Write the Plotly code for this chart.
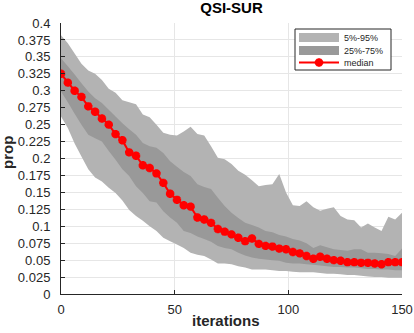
import plotly.graph_objects as go

# ── Data (every 3 iterations) ─────────────────────────────────────────────────

iterations = list(range(0, 151, 3))

median = [0.325, 0.312, 0.300, 0.291, 0.277, 0.269, 0.259, 0.250, 0.236, 0.227,
          0.209, 0.204, 0.190, 0.186, 0.178, 0.164, 0.148, 0.139, 0.131, 0.129,
          0.113, 0.110, 0.105, 0.096, 0.092, 0.088, 0.083, 0.078, 0.082, 0.074,
          0.071, 0.070, 0.067, 0.066, 0.062, 0.060, 0.056, 0.052, 0.055, 0.052,
          0.050, 0.049, 0.047, 0.047, 0.046, 0.046, 0.045, 0.044, 0.047, 0.047,
          0.047]

q95 = [0.382, 0.370, 0.355, 0.340, 0.330, 0.325, 0.316, 0.303, 0.297, 0.286,
       0.283, 0.280, 0.265, 0.261, 0.250, 0.238, 0.235, 0.234, 0.240, 0.247,
       0.236, 0.234, 0.218, 0.201, 0.199, 0.192, 0.182, 0.176, 0.168, 0.159,
       0.161, 0.162, 0.177, 0.150, 0.131, 0.130, 0.137, 0.128, 0.123, 0.126,
       0.128, 0.115, 0.110, 0.109, 0.098, 0.104, 0.098, 0.093, 0.114, 0.110,
       0.120]

q75 = [0.348, 0.336, 0.324, 0.311, 0.299, 0.289, 0.282, 0.272, 0.262, 0.252,
       0.243, 0.235, 0.223, 0.218, 0.216, 0.208, 0.196, 0.188, 0.180, 0.174,
       0.162, 0.158, 0.155, 0.142, 0.130, 0.120, 0.112, 0.105, 0.102, 0.098,
       0.093, 0.091, 0.087, 0.085, 0.081, 0.079, 0.075, 0.068, 0.072, 0.069,
       0.066, 0.065, 0.064, 0.066, 0.066, 0.061, 0.061, 0.060, 0.059, 0.056,
       0.067]

q25 = [0.299, 0.283, 0.266, 0.250, 0.235, 0.230, 0.225, 0.211, 0.198, 0.184,
       0.174, 0.159, 0.149, 0.137, 0.135, 0.122, 0.113, 0.105, 0.093, 0.090,
       0.085, 0.081, 0.077, 0.071, 0.068, 0.066, 0.061, 0.057, 0.054, 0.052,
       0.051, 0.050, 0.049, 0.046, 0.045, 0.045, 0.044, 0.043, 0.042, 0.041,
       0.040, 0.040, 0.039, 0.039, 0.038, 0.037, 0.037, 0.036, 0.036, 0.035,
       0.035]

q05 = [0.262, 0.245, 0.222, 0.203, 0.184, 0.172, 0.166, 0.157, 0.149, 0.138,
       0.124, 0.115, 0.108, 0.100, 0.093, 0.083, 0.078, 0.073, 0.068, 0.061,
       0.058, 0.056, 0.051, 0.045, 0.045, 0.044, 0.041, 0.039, 0.036, 0.036,
       0.036, 0.035, 0.034, 0.034, 0.033, 0.032, 0.032, 0.032, 0.031, 0.030,
       0.030, 0.029, 0.028, 0.028, 0.027, 0.026, 0.025, 0.025, 0.024, 0.024,
       0.024]

legend_labels = ["5%-95%", "25%-75%", "median"]

y_ticks = [i * 0.025 for i in range(17)]
y_labels = [f"{v:g}" for v in y_ticks]
x_ticks = [0, 50, 100, 150]
X_RANGE = [0, 150]
Y_RANGE = [0, 0.4]

# ── Style ─────────────────────────────────────────────────────────────────────

FONT = "Liberation Sans, Arial, sans-serif"
AXIS = "#262626"
GRID = "#e6e6e6"
OUTER = "rgb(179,179,179)"
INNER = "rgb(153,153,153)"
W, H = 414, 333
L, R, T, B = 61, 12, 23, 39   # plot area = 61..402 x 23..294 px


def px_x(px):
    """Pixel column -> x data value (for placing the legend box)."""
    return X_RANGE[0] + (px - L) / (W - L - R) * (X_RANGE[1] - X_RANGE[0])


def px_y(py):
    """Pixel row -> y data value."""
    return Y_RANGE[0] + (H - B - py) / (H - T - B) * (Y_RANGE[1] - Y_RANGE[0])


def band(lower, upper):
    """Closed polygon (x, y) for a filled band between two curves."""
    return iterations + iterations[::-1], upper + lower[::-1]


fig = go.Figure()

bx, by = band(q05, q95)
fig.add_trace(go.Scatter(x=bx, y=by, fill="toself", mode="none",
                         fillcolor=OUTER, hoverinfo="skip"))
bx, by = band(q25, q75)
fig.add_trace(go.Scatter(x=bx, y=by, fill="toself", mode="none",
                         fillcolor=INNER, hoverinfo="skip"))

median_line = dict(color="red", width=2)
median_marker = dict(symbol="asterisk-open", size=7, color="red",
                     line=dict(color="red", width=2.8))
fig.add_trace(go.Scatter(x=iterations, y=median, mode="lines+markers",
                         line=median_line, marker=median_marker))

# ── Compact legend box, drawn by hand (Octave style) ─────────────────────────
rows = [37.5, 50.5, 62.5]          # pixel rows of the three entries
sw_x0, sw_x1, txt_x = 299, 339, 342

shapes = [dict(type="rect", xref="x", yref="y", layer="between",
               x0=px_x(295), x1=px_x(391), y0=px_y(29), y1=px_y(70),
               fillcolor="white", line=dict(color=AXIS, width=1))]
for yc, col in zip(rows[:2], [OUTER, INNER]):
    shapes.append(dict(type="rect", xref="x", yref="y", layer="between",
                       x0=px_x(sw_x0), x1=px_x(sw_x1),
                       y0=px_y(yc - 4.5), y1=px_y(yc + 4.5),
                       fillcolor=col, line=dict(width=0)))

fig.add_trace(go.Scatter(x=[px_x(sw_x0), px_x(sw_x1)],
                         y=[px_y(rows[2])] * 2, mode="lines",
                         line=median_line, hoverinfo="skip"))
fig.add_trace(go.Scatter(x=[px_x((sw_x0 + sw_x1) / 2)], y=[px_y(rows[2])],
                         mode="markers", marker=median_marker,
                         hoverinfo="skip"))

annotations = [dict(text=t, xref="x", yref="y", x=px_x(txt_x), y=px_y(yc),
                    xanchor="left", yanchor="middle", showarrow=False,
                    font=dict(size=9, color=AXIS))
               for t, yc in zip(legend_labels, rows)]

# axis titles
annotations.append(dict(text="<b>prop</b>", xref="paper", yref="paper",
                        x=(7 - L) / (W - L - R), y=(H - B - 153) / (H - T - B),
                        textangle=-90, showarrow=False,
                        xanchor="center", yanchor="middle",
                        font=dict(size=15, color=AXIS)))
annotations.append(dict(text="<b>iterations</b>", xref="paper", yref="paper",
                        x=(226 - L) / (W - L - R), y=(H - B - 320) / (H - T - B),
                        showarrow=False, xanchor="center", yanchor="middle",
                        font=dict(size=15, color=AXIS)))

fig.update_layout(
    width=W, height=H,
    margin=dict(l=L, r=R, t=T, b=B),
    paper_bgcolor="white", plot_bgcolor="white",
    font=dict(family=FONT, size=13, color=AXIS),
    title=dict(text="<b>QSI-SUR</b>", xref="paper", x=0.5, xanchor="center",
               y=1 - 8 / H, yanchor="middle",
               font=dict(family=FONT, size=15, color="black")),
    showlegend=False,
    shapes=shapes,
    annotations=annotations,
    xaxis=dict(range=X_RANGE, tickvals=x_ticks, showgrid=True,
               gridcolor=GRID, zeroline=False, showline=True,
               linecolor=AXIS, ticks="inside", ticklen=4, tickcolor=AXIS,
               ticklabelstandoff=3, automargin=False),
    yaxis=dict(range=Y_RANGE, tickvals=y_ticks, ticktext=y_labels,
               showgrid=True, gridcolor=GRID, zeroline=False,
               showline=True, linecolor=AXIS, ticks="inside", ticklen=4,
               tickcolor=AXIS, ticklabelstandoff=7, automargin=False),
)

# the page's default 8px body margin would shift the whole figure
fig.write_html("out.html", config={"displayModeBar": False},
               post_script="document.body.style.margin = '0';")
